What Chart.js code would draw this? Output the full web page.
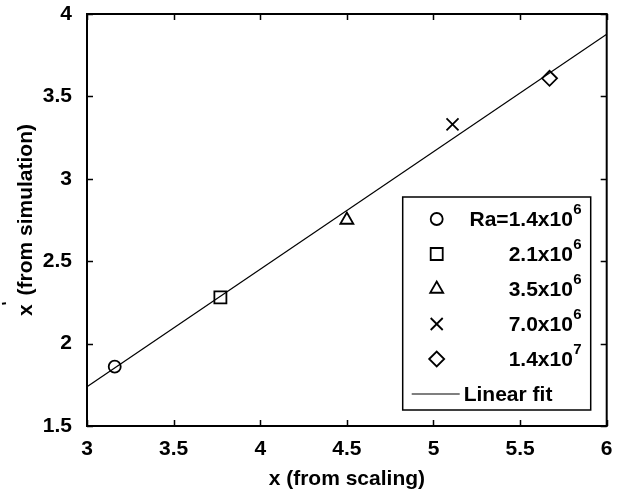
<!DOCTYPE html>
<html>
<head>
<meta charset="utf-8">
<script src="https://cdn.jsdelivr.net/npm/chart.js@4.4.0/dist/chart.umd.min.js"></script>
<style>
  body { margin: 0; background: #fff; }
</style>
</head>
<body>
<canvas id="fitChart" width="617" height="494"></canvas>
<script>
// x' from simulation against x from scaling, one series per Rayleigh number
const raLabels = ['Ra=1.4x10', '2.1x10', '3.5x10', '7.0x10', '1.4x10'];
const raExponents = ['6', '6', '6', '6', '7'];
const scalingX = [3.16, 3.77, 4.50, 5.11, 5.67];
const simulationX = [1.86, 2.28, 2.75, 3.33, 3.61];
const markerStyles = ['circle', 'rect', 'triangle', 'crossRot', 'rectRot'];
const markerRadius = [6, 8.5, 7.5, 8.5, 7.5];

// end points of the linear fit
const fitX = [3, 6];
const fitY = [1.738, 3.877];

const xTicks = [3, 3.5, 4, 4.5, 5, 5.5, 6];
const yTicks = [1.5, 2, 2.5, 3, 3.5, 4];

const FONT = 'Liberation Sans, Arial, sans-serif';
const FONT_SIZE = 21;

const datasets = scalingX.map((x, i) => ({
    label: raLabels[i] + raExponents[i],
    data: [{ x: x, y: simulationX[i] }],
    pointStyle: markerStyles[i],
    pointRadius: markerRadius[i],
    pointBorderColor: '#000',
    pointBackgroundColor: 'rgba(0,0,0,0)',
    pointBorderWidth: 1.8,
    showLine: false
}));
datasets.push({
    label: 'Linear fit',
    data: fitX.map((x, i) => ({ x: x, y: fitY[i] })),
    showLine: true,
    borderColor: '#000',
    borderWidth: 1.2,
    pointRadius: 0
});

// box, inward ticks, axis titles and the legend
const framePlugin = {
    id: 'frame',
    afterDraw(chart) {
        const { ctx, chartArea: a, scales } = chart;
        ctx.save();
        ctx.strokeStyle = '#000';

        ctx.lineWidth = 1.5;
        ctx.beginPath();
        xTicks.forEach(v => {
            const px = Math.round(scales.x.getPixelForValue(v)) + 0.5;
            ctx.moveTo(px, a.bottom); ctx.lineTo(px, a.bottom - 6);
            ctx.moveTo(px, a.top); ctx.lineTo(px, a.top + 6);
        });
        yTicks.forEach(v => {
            const py = Math.round(scales.y.getPixelForValue(v)) + 0.5;
            ctx.moveTo(a.left, py); ctx.lineTo(a.left + 6, py);
            ctx.moveTo(a.right, py); ctx.lineTo(a.right - 6, py);
        });
        ctx.stroke();

        ctx.lineWidth = 2;
        ctx.strokeRect(a.left, a.top, a.right - a.left, a.bottom - a.top);

        // x axis title
        ctx.fillStyle = '#000';
        ctx.font = 'bold ' + FONT_SIZE + 'px ' + FONT;
        ctx.textAlign = 'center';
        ctx.textBaseline = 'middle';
        ctx.fillText('x (from scaling)', (a.left + a.right) / 2, 479);

        // y axis title, x with a prime
        ctx.save();
        ctx.translate(32, (a.top + a.bottom) / 2);
        ctx.rotate(-Math.PI / 2);
        const head = 'x';
        const rest = ' (from simulation)';
        const wHead = ctx.measureText(head).width;
        const wRest = ctx.measureText(rest).width;
        const total = wHead + 3 + wRest;
        const tx = -total / 2;
        ctx.textAlign = 'left';
        ctx.textBaseline = 'alphabetic';
        ctx.fillText(head, tx, 0);
        ctx.lineWidth = 2;
        ctx.beginPath();
        ctx.moveTo(tx + wHead + 1, -26);
        ctx.lineTo(tx + wHead + 0.5, -30);
        ctx.stroke();
        ctx.fillText(rest, tx + wHead + 3, 0);
        ctx.restore();

        // legend
        const bw = 188, bh = 213;
        const bx = a.right - 16 - bw, by = a.bottom - 16 - bh;
        ctx.fillStyle = '#fff';
        ctx.fillRect(bx, by, bw, bh);
        ctx.lineWidth = 1.5;
        ctx.strokeRect(bx, by, bw, bh);
        const rowY = i => by + 22 + i * 35;
        raLabels.forEach((label, i) => {
            const y = rowY(i);
            ctx.fillStyle = 'rgba(0,0,0,0)';
            ctx.strokeStyle = '#000';
            ctx.lineWidth = 1.8;
            Chart.helpers.drawPoint(ctx, {
                pointStyle: markerStyles[i],
                radius: markerRadius[i],
                borderWidth: 1.8,
                rotation: 0
            }, bx + 34, y);
            ctx.fillStyle = '#000';
            const right = bx + bw - 9;
            ctx.textAlign = 'right';
            ctx.textBaseline = 'middle';
            ctx.font = 'bold 15px ' + FONT;
            const supW = ctx.measureText(raExponents[i]).width;
            ctx.fillText(raExponents[i], right, y - 9);
            ctx.font = 'bold ' + FONT_SIZE + 'px ' + FONT;
            ctx.fillText(label, right - supW - 0.5, y + 1);
        });
        const ly = rowY(5);
        ctx.strokeStyle = '#000';
        ctx.lineWidth = 1.2;
        ctx.beginPath();
        ctx.moveTo(bx + 9, ly);
        ctx.lineTo(bx + 57, ly);
        ctx.stroke();
        ctx.fillStyle = '#000';
        ctx.textAlign = 'left';
        ctx.textBaseline = 'middle';
        ctx.font = 'bold ' + FONT_SIZE + 'px ' + FONT;
        ctx.fillText('Linear fit', bx + 61, ly + 1);
        ctx.restore();
    }
};

const ctx = document.getElementById('fitChart').getContext('2d');
const fitChart = new Chart(ctx, {
    type: 'scatter',
    data: { datasets: datasets },
    options: {
        responsive: false,
        animation: false,
        devicePixelRatio: 1,
        layout: { padding: { left: 0, top: 14, right: 7, bottom: 0 } },
        plugins: {
            legend: { display: false },
            tooltip: { enabled: false }
        },
        scales: {
            x: {
                type: 'linear',
                min: 3,
                max: 6,
                afterBuildTicks: scale => { scale.ticks = xTicks.map(v => ({ value: v })); },
                afterFit: scale => {
                    scale.height = 68;
                    scale.paddingLeft = 0;
                    scale.paddingRight = 0;
                },
                grid: { display: false },
                border: { display: false },
                ticks: {
                    color: '#000',
                    padding: 3,
                    maxRotation: 0,
                    callback: v => String(v),
                    font: { family: FONT, size: FONT_SIZE, weight: 'bold' }
                }
            },
            y: {
                type: 'linear',
                min: 1.5,
                max: 4,
                afterBuildTicks: scale => { scale.ticks = yTicks.map(v => ({ value: v })); },
                afterFit: scale => {
                    scale.width = 87;
                    scale.paddingTop = 0;
                    scale.paddingBottom = 0;
                },
                grid: { display: false },
                border: { display: false },
                ticks: {
                    color: '#000',
                    padding: 7,
                    callback: v => String(v),
                    font: { family: FONT, size: FONT_SIZE, weight: 'bold' }
                }
            }
        }
    },
    plugins: [framePlugin]
});
</script>
</body>
</html>
